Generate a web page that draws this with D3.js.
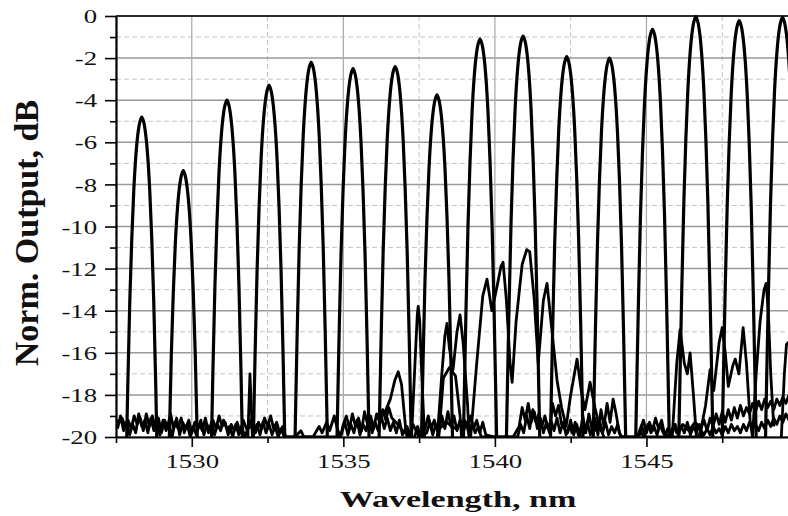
<!DOCTYPE html>
<html>
<head>
<meta charset="utf-8">
<script src="https://d3js.org/d3.v7.min.js"></script>
<style>
    body { margin: 0; background: #fff; }
    svg { display: block; }
    text { font-family: "Liberation Serif", "Times New Roman", serif; fill: #111; }
</style>
</head>
<body>
<svg></svg>
<script>
    // channel peaks: centre wavelength (nm) and top level (dB)
    let peakCenters = [1528.35, 1529.72, 1531.16, 1532.55, 1533.94, 1535.32, 1536.71, 1538.09,
                       1539.51, 1540.93, 1542.37, 1543.78, 1545.20, 1546.63, 1548.06, 1549.49];
    let peakLevels = [-4.8, -7.35, -4.0, -3.3, -2.2, -2.5, -2.4, -3.75,
                      -1.1, -0.95, -1.93, -2.0, -0.63, -0.03, -0.22, -0.06];

    // shape of one channel: distance from centre (nm) vs drop below its top (dB)
    let profileOffset = [0, 0.066, 0.132, 0.198, 0.264, 0.33, 0.396, 0.462, 0.528, 0.594];
    let profileDrop = [0, 0.25, 0.85, 1.9, 3.5, 5.8, 8.8, 12.8, 17.5, 22.5];

    // noise floors under the channels
    let floorTrace = [
        [1527.5,-19.2],[1527.6,-19.3],[1527.7,-19.1],[1527.8,-19.5],[1527.9,-19.2],[1528.0,-19.6],
        [1528.1,-19.0],[1528.2,-19.4],[1528.3,-19.1],[1528.4,-19.7],[1528.5,-18.9],[1528.6,-19.5],
        [1528.7,-19.0],[1528.8,-19.6],[1528.9,-19.1],[1529.0,-19.8],[1529.1,-19.2],[1529.2,-19.5],
        [1529.3,-18.9],[1529.4,-19.6],[1529.5,-19.1],[1529.6,-19.9],[1529.7,-19.3],[1529.8,-19.6],
        [1529.9,-19.2],[1530.0,-19.8],[1530.1,-19.3],[1530.2,-19.6],[1530.3,-19.2],[1530.4,-19.9],
        [1530.5,-19.4],[1530.6,-19.7],[1530.7,-19.2],[1530.8,-19.6],[1530.9,-19.0],[1531.0,-19.5],
        [1531.1,-19.3],[1531.2,-19.9],[1531.3,-19.4],[1531.4,-19.7],[1531.5,-19.3],[1531.6,-19.8],
        [1531.7,-19.2],[1531.8,-19.6],[1532.0,-19.5],[1532.1,-19.8],[1532.2,-19.3],[1532.3,-19.6],
        [1532.4,-19.1],[1532.5,-19.5],[1532.6,-19.0],[1532.7,-19.6],[1532.8,-19.3],[1532.9,-19.8],
        [1533.0,-19.5],[1533.1,-20],[1533.4,-20],[1533.6,-19.7],[1533.7,-20],[1534.0,-20],
        [1534.2,-19.5],[1534.3,-19.8],[1534.45,-19.3],[1534.55,-19.7],[1534.7,-19.0],[1534.8,-19.6],
        [1534.9,-20],[1535.0,-19.4],[1535.1,-19.0],[1535.2,-19.6],[1535.3,-18.9],[1535.4,-19.5],
        [1535.5,-19.1],[1535.6,-19.7],[1535.7,-18.8],[1535.8,-19.4],[1535.9,-19.0],[1536.0,-19.6],
        [1536.1,-18.9],[1536.2,-19.3],[1536.3,-18.7],[1536.4,-19.2],[1536.5,-18.6],[1536.6,-19.1],
        [1536.8,-19.4],[1537.0,-19.8],[1537.1,-19.5],[1537.2,-19.9],[1537.3,-19.4],[1537.5,-20],
        [1537.7,-19.6],[1537.8,-19.0],[1537.9,-19.6],[1538.0,-19.2],[1538.1,-19.7],[1538.4,-19.3],
        [1538.7,-19.6],[1539.0,-19.2],[1539.1,-19.5],[1539.2,-19.0],[1539.3,-19.6],[1539.4,-19.2],
        [1539.5,-19.8],[1539.6,-19.3],[1539.7,-19.9],[1540.0,-20],[1540.6,-20],[1540.8,-19.5],
        [1540.9,-18.6],[1541.0,-19.2],[1541.1,-18.4],[1541.2,-19.3],[1541.3,-18.8],[1541.4,-19.6],
        [1541.5,-19.1],[1541.6,-19.8],[1541.7,-19.3],[1541.8,-19.8],[1541.9,-18.4],[1542.0,-19.0],
        [1542.1,-18.5],[1542.2,-19.4],[1542.4,-19.8],[1542.5,-19.2],[1542.6,-19.9],[1542.7,-19.4],
        [1542.8,-20],[1542.9,-19.0],[1543.0,-19.8],[1543.1,-18.9],[1543.2,-19.6],[1543.3,-19.1],
        [1543.4,-19.9],[1543.5,-18.7],[1543.6,-19.5],[1543.7,-18.4],[1543.8,-19.3],[1543.9,-18.2],
        [1544.0,-18.9],[1544.1,-19.8],[1544.2,-20],[1544.7,-20],[1544.8,-19.6],[1544.9,-19.2],
        [1545.0,-19.8],[1545.1,-19.3],[1545.2,-19.7],[1545.3,-19.1],[1545.4,-19.6],[1545.5,-19.2],
        [1545.6,-19.9],[1545.7,-20],[1545.9,-19.5],[1546.0,-19.8],[1546.2,-19.4],[1546.4,-19.7],
        [1546.6,-19.3],[1546.8,-19.6],[1546.9,-19.2],[1547.0,-19.7],[1547.1,-19.1],[1547.2,-19.5],
        [1547.3,-18.9],[1547.4,-19.4],[1547.5,-18.8],[1547.6,-19.3],[1547.7,-18.7],[1547.8,-19.2],
        [1547.9,-18.6],[1548.0,-19.1],[1548.1,-18.5],[1548.2,-19.0],[1548.3,-18.6],[1548.4,-18.9],
        [1548.5,-18.4],[1548.6,-18.8],[1548.7,-18.3],[1548.8,-18.7],[1548.9,-18.2],[1549.0,-18.6],
        [1549.1,-18.3],[1549.2,-18.7],[1549.3,-18.2],[1549.4,-18.5],[1549.5,-18.1],[1549.6,-18.4],
        [1549.7,-18.0],[1549.8,-18.3],[1549.9,-18.1],[1550.0,-18.2]
    ];

    let floorTrace2 = [
        [1544.7,-20],[1544.8,-19.7],[1544.9,-20],[1545.6,-20],[1545.7,-19.6],[1545.8,-20],
        [1546.7,-20],[1546.8,-19.7],[1546.9,-19.9],[1547.0,-19.6],[1547.1,-19.9],[1547.2,-19.5],
        [1547.3,-19.8],[1547.4,-19.6],[1547.5,-19.9],[1547.6,-19.5],[1547.7,-19.8],[1547.8,-19.4],
        [1547.9,-19.7],[1548.0,-19.5],[1548.1,-19.8],[1548.2,-19.4],[1548.3,-19.7],[1548.4,-19.3],
        [1548.5,-19.6],[1548.6,-19.4],[1548.7,-19.7],[1548.8,-19.3],[1548.9,-19.6],[1549.0,-19.2],
        [1549.1,-19.5],[1549.2,-19.1],[1549.3,-19.4],[1549.4,-19.0],[1549.5,-19.3],[1549.6,-18.9],
        [1549.7,-19.2],[1549.8,-18.8],[1549.9,-19.1],[1550.0,-18.9]
    ];

    let floorTrace3 = [
        [1527.55,-19.6],[1527.65,-19.0],[1527.75,-19.7],[1527.85,-19.3],[1527.95,-19.9],[1528.05,-19.4],
        [1528.15,-19.8],[1528.25,-18.9],[1528.35,-19.5],[1528.45,-19.2],[1528.55,-19.8],[1528.65,-19.1],
        [1528.75,-19.7],[1528.85,-19.3],[1528.95,-19.9],[1529.05,-19.2],[1529.15,-19.7],[1529.25,-19.4],
        [1529.35,-20],[1529.45,-19.3],[1529.55,-19.6],[1529.65,-19.1],[1529.75,-19.8],[1529.85,-19.4],
        [1529.95,-20],[1530.05,-19.5],[1530.15,-19.9],[1530.25,-19.4],[1530.35,-19.7],[1530.45,-19.1],
        [1530.55,-19.8],[1530.65,-19.3],[1530.75,-19.9],[1530.85,-19.4],[1530.95,-19.7],[1531.05,-19.2],
        [1531.15,-19.6],[1531.25,-19.5],[1531.35,-20],[1531.45,-19.4],[1531.55,-19.9],[1531.65,-19.5],
        [1531.75,-20],[1531.85,-19.6],[1531.95,-19.2],[1532.05,-19.7],[1532.15,-19.4],[1532.25,-19.9],
        [1532.35,-19.3],[1532.45,-19.8],[1532.55,-19.4],[1532.65,-19.9],[1532.75,-19.5],[1532.85,-20],
        [1532.95,-19.6],[1533.05,-20],[1534.9,-20],
        [1534.95,-19.8],[1535.05,-19.3],[1535.15,-19.9],[1535.25,-19.4],[1535.35,-19.8],[1535.45,-19.2],
        [1535.55,-19.9],[1535.65,-19.4],[1535.75,-19.7],[1535.85,-19.1],[1535.95,-19.8],[1536.05,-19.3],
        [1536.15,-19.7],[1536.25,-19.0],[1536.35,-19.6],[1536.45,-19.1],[1536.55,-19.7],[1536.65,-19.3],
        [1536.75,-19.8],[1536.85,-19.2],[1536.95,-19.9],[1537.05,-19.6],[1537.15,-20],[1537.35,-20],
        [1537.45,-19.5],[1537.55,-20],[1537.75,-19.8],[1537.85,-19.3],[1537.95,-19.9],[1538.05,-19.4],
        [1538.15,-19.8],[1538.25,-19.0],[1538.35,-19.6],[1538.45,-18.8],[1538.55,-19.5],[1538.65,-19.0],
        [1538.75,-19.7],[1538.85,-19.2],[1538.95,-19.8],[1539.05,-19.3],[1539.15,-19.9],[1539.25,-19.4],
        [1539.35,-19.8],[1539.45,-19.5],[1539.55,-20],[1540.75,-20],
        [1540.85,-19.4],[1540.95,-19.8],[1541.05,-19.0],[1541.15,-19.6],[1541.25,-18.7],[1541.35,-19.3],
        [1541.45,-18.9],[1541.55,-19.5],[1541.65,-19.0],[1541.75,-19.6],[1541.85,-19.2],[1541.95,-19.7],
        [1542.05,-19.1],[1542.15,-19.8],[1542.25,-19.3],[1542.35,-19.9],[1542.45,-19.5],[1542.55,-19.8],
        [1542.65,-19.3],[1542.75,-19.9],[1542.85,-19.5],[1542.95,-19.8],[1543.05,-19.3],[1543.15,-19.9],
        [1543.25,-19.4],[1543.35,-19.7],[1543.45,-19.2],[1543.55,-19.8],[1543.65,-19.3],[1543.75,-19.9],
        [1543.85,-19.5],[1543.95,-19.8],[1544.05,-19.4],[1544.15,-20],[1544.75,-20],
        [1544.85,-19.5],[1544.95,-19.9],[1545.05,-19.4],[1545.15,-19.8],[1545.25,-19.5],[1545.35,-19.9],
        [1545.45,-19.4],[1545.55,-19.8],[1545.65,-20],[1545.85,-19.8],[1545.95,-19.4],[1546.05,-19.9],
        [1546.15,-19.5],[1546.25,-19.8],[1546.35,-19.3],[1546.45,-19.9],[1546.55,-19.5],[1546.65,-19.8],
        [1546.75,-19.4],[1546.85,-20]
    ];

    // side lobes / crosstalk bumps
    let sideTraces = [
        [[1531.85,-20],[1531.92,-17.0],[1532.0,-20]],
        [[1536.35,-18.9],[1536.55,-18.2],[1536.7,-17.3],[1536.81,-16.9],[1536.92,-17.5],[1537.05,-19.5],[1537.1,-20]],
        [[1537.25,-20],[1537.38,-16.0],[1537.44,-14.2],[1537.47,-13.8],[1537.52,-14.5],[1537.6,-17.5],[1537.68,-20]],
        [[1538.1,-20],[1538.25,-17.0],[1538.35,-15.2],[1538.42,-14.6],[1538.5,-15.8],[1538.62,-16.8],
         [1538.75,-15.0],[1538.85,-14.2],[1538.95,-15.5],[1539.1,-18.5],[1539.15,-20]],
        [[1538.15,-20],[1538.3,-17.2],[1538.5,-16.7],[1538.7,-17.1],[1538.85,-19.0],[1538.9,-20]],
        [[1539.2,-20],[1539.4,-16.5],[1539.6,-13.3],[1539.74,-12.5],[1539.9,-14.0],[1540.05,-13.0],
         [1540.2,-11.9],[1540.27,-11.7],[1540.38,-13.5],[1540.5,-16.5],[1540.57,-17.4],[1540.7,-14.5],
         [1540.9,-11.8],[1541.05,-11.1],[1541.15,-11.2],[1541.3,-13.5],[1541.43,-16.5],[1541.6,-13.5],
         [1541.72,-12.7],[1541.85,-14.5],[1542.05,-17.3],[1542.2,-18.6],[1542.35,-19.5],[1542.5,-18.0],
         [1542.71,-16.3],[1542.85,-17.8],[1542.97,-18.7],[1543.14,-17.4],[1543.3,-18.6],[1543.45,-19.5],[1543.6,-20]],
        [[1545.85,-20],[1546.0,-16.5],[1546.11,-14.9],[1546.25,-16.5],[1546.35,-17.0],[1546.44,-16.0],[1546.55,-18.0],[1546.65,-20]],
        [[1546.75,-20],[1546.95,-18.5],[1547.1,-16.8],[1547.22,-17.8],[1547.4,-15.5],[1547.5,-14.8],[1547.6,-16.0],
         [1547.7,-17.6],[1547.85,-16.6],[1547.93,-16.3],[1548.05,-17.0],[1548.19,-14.8],[1548.3,-16.5],[1548.42,-19.2],[1548.5,-20]],
        [[1548.5,-20],[1548.62,-17.0],[1548.75,-14.5],[1548.88,-13.0],[1548.95,-12.7],[1549.02,-14.0],[1549.1,-17.0],[1549.2,-19.5]],
        [[1549.45,-20],[1549.55,-17.0],[1549.62,-15.6],[1549.75,-15.4],[1549.9,-15.8]]
    ];

    let xTicks = [1530, 1535, 1540, 1545];
    let xMinor = [1527.5, 1532.5, 1537.5, 1542.5, 1547.5];
    let yTicks = [0, -2, -4, -6, -8, -10, -12, -14, -16, -18, -20];
    let yMinor = [-1, -3, -5, -7, -9, -11, -13, -15, -17, -19];

    let width = 788, height = 516;
    let plotLeft = 116, plotTop = 16, plotBottom = 437, plotRight = 798;
    let stretch = 1.45; // the figure's lettering is drawn wide

    let svg = d3.select("svg")
        .attr("width", width)
        .attr("height", height);

    let x = d3.scaleLinear().domain([1527.5, 1550]).range([plotLeft, plotRight]);
    let y = d3.scaleLinear().domain([-20, 0]).range([plotBottom, plotTop]);

    // grid
    let grid = svg.append("g");
    grid.selectAll(".hminor").data(yMinor).enter().append("line")
        .attr("x1", plotLeft).attr("x2", plotRight)
        .attr("y1", d => y(d)).attr("y2", d => y(d))
        .attr("stroke", "#c4c4c4").attr("stroke-width", 1).attr("stroke-dasharray", "5,3");
    grid.selectAll(".vminor").data(xMinor).enter().append("line")
        .attr("x1", d => x(d)).attr("x2", d => x(d))
        .attr("y1", plotTop).attr("y2", plotBottom)
        .attr("stroke", "#c4c4c4").attr("stroke-width", 1).attr("stroke-dasharray", "5,3");
    grid.selectAll(".hmajor").data(yTicks).enter().append("line")
        .attr("x1", plotLeft).attr("x2", plotRight)
        .attr("y1", d => y(d)).attr("y2", d => y(d))
        .attr("stroke", "#9a9a9a").attr("stroke-width", 1.5);
    grid.selectAll(".vmajor").data(xTicks).enter().append("line")
        .attr("x1", d => x(d)).attr("x2", d => x(d))
        .attr("y1", plotTop).attr("y2", plotBottom)
        .attr("stroke", "#a8a8a8").attr("stroke-width", 1.2);

    // traces
    svg.append("clipPath").attr("id", "plot")
        .append("rect").attr("x", plotLeft).attr("y", plotTop - 2)
        .attr("width", plotRight - plotLeft).attr("height", plotBottom - plotTop + 2);

    let traces = svg.append("g").attr("clip-path", "url(#plot)");

    let noiseLine = d3.line().x(d => x(d[0])).y(d => y(d[1]));
    let peakLine = d3.line().x(d => x(d[0])).y(d => y(d[1])).curve(d3.curveCatmullRom.alpha(0.5));

    let peaks = peakCenters.map((c, i) => {
        let lvl = peakLevels[i];
        let n = profileDrop.length;
        let leftSide = profileOffset.slice().reverse().map((o, j) => [c - o, lvl - profileDrop[n - 1 - j]]);
        let rightSide = profileOffset.slice(1).map((o, j) => [c + o, lvl - profileDrop[j + 1]]);
        return leftSide.concat(rightSide);
    });

    traces.selectAll(".noise")
        .data([floorTrace, floorTrace2, floorTrace3].concat(sideTraces))
        .enter().append("path")
        .attr("d", noiseLine)
        .attr("fill", "none").attr("stroke", "#000")
        .attr("stroke-width", 2.8).attr("stroke-linejoin", "round");

    traces.selectAll(".peak")
        .data(peaks)
        .enter().append("path")
        .attr("d", peakLine)
        .attr("fill", "none").attr("stroke", "#000")
        .attr("stroke-width", 3.2).attr("stroke-linejoin", "round");

    // frame
    svg.append("line")
        .attr("x1", plotLeft).attr("x2", plotRight).attr("y1", plotTop).attr("y2", plotTop)
        .attr("stroke", "#000").attr("stroke-width", 1.5);

    // axes
    let yAxis = svg.append("g")
        .attr("transform", "translate(" + plotLeft + ",0)")
        .call(d3.axisLeft(y).tickValues(yTicks).tickSize(11).tickSizeOuter(0).tickFormat(d => String(d)));
    svg.append("g")
        .attr("transform", "translate(" + plotLeft + ",0)")
        .call(d3.axisLeft(y).tickValues(yMinor).tickSize(6).tickSizeOuter(0).tickFormat(""))
        .select(".domain").remove();

    let xAxis = svg.append("g")
        .attr("transform", "translate(0," + plotBottom + ")")
        .call(d3.axisBottom(x).tickValues(xTicks).tickSize(10).tickSizeOuter(0).tickFormat(d => String(d)));
    svg.append("g")
        .attr("transform", "translate(0," + plotBottom + ")")
        .call(d3.axisBottom(x).tickValues(xMinor).tickSize(6).tickSizeOuter(0).tickFormat(""))
        .select(".domain").remove();

    svg.selectAll(".tick line").attr("stroke", "#000").attr("stroke-width", 1.6);
    svg.selectAll(".domain").attr("stroke", "#000").attr("stroke-width", 2.2);

    yAxis.selectAll("text")
        .attr("x", -13).attr("dy", "0.36em")
        .attr("transform", "scale(" + stretch + ",1)")
        .style("font-size", "18.5px").style("font-family", "'Liberation Serif', serif").attr("fill", "#111");

    xAxis.selectAll("text")
        .attr("y", 31).attr("dy", 0)
        .attr("transform", "scale(" + stretch + ",1)")
        .style("font-size", "18.5px").style("font-family", "'Liberation Serif', serif").attr("fill", "#111");

    // axis titles
    svg.append("text")
        .attr("transform", "translate(458,507) scale(" + stretch + ",1)")
        .attr("text-anchor", "middle")
        .style("font-size", "23.5px").style("font-weight", "bold")
        .text("Wavelength, nm");

    svg.append("text")
        .attr("transform", "translate(38,233) rotate(-90)")
        .attr("text-anchor", "middle")
        .style("font-size", "34px").style("font-weight", "bold")
        .text("Norm. Output, dB");
</script>
</body>
</html>
